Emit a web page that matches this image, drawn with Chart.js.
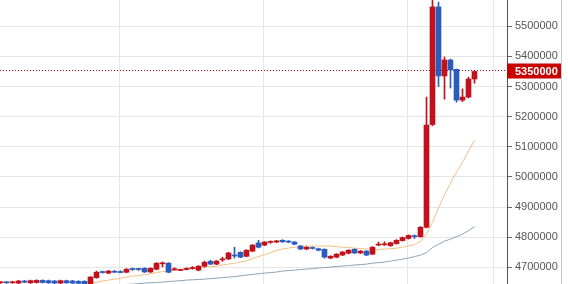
<!DOCTYPE html>
<html>
<head>
<meta charset="utf-8">
<script src="https://cdn.jsdelivr.net/npm/chart.js@4.4.1/dist/chart.umd.min.js"></script>
<style>
  html, body { margin: 0; padding: 0; background: #fff; }
  #wrap { width: 561px; height: 284px; border-right: 1px solid #c8c8c8; }
</style>
</head>
<body>
<div id="wrap"><canvas id="chart"></canvas></div>
<script>
// candle data (one per session, oldest first)
const opens = [
  4649000, 4651000, 4649000, 4648000, 4655000, 4649000, 4650000, 4657000, 4656000, 4655000,
  4648000, 4656000, 4655000, 4654000, 4654000, 4645000, 4666000, 4686000, 4681000, 4686000,
  4685000, 4684000, 4695000, 4695000, 4697000, 4685000, 4694000, 4712000, 4714000, 4692000,
  4690000, 4693000, 4696000, 4691000, 4704000, 4720000, 4711000, 4725000, 4728000, 4741000,
  4750000, 4737000, 4754000, 4781000, 4774000, 4783000, 4784000, 4790000, 4787000, 4784000,
  4771000, 4761000, 4766000, 4762000, 4760000, 4731000, 4734000, 4741000, 4747000, 4760000,
  4748000, 4754000, 4744000, 4774000, 4775000, 4772000, 4779000, 4789000, 4796000, 4805000,
  4802000, 4833000, 5174000, 5564000, 5335000, 5388000, 5357000, 5255000, 5265000, 5325000
];
const closes = [
  4651000, 4649000, 4652000, 4655000, 4651000, 4656000, 4657000, 4650000, 4649000, 4648000,
  4656000, 4649000, 4648000, 4647000, 4646000, 4668000, 4684000, 4683000, 4688000, 4684000,
  4683000, 4694000, 4693000, 4693000, 4685000, 4697000, 4714000, 4715000, 4684000, 4694000,
  4692000, 4695000, 4699000, 4704000, 4717000, 4711000, 4721000, 4728000, 4748000, 4738000,
  4734000, 4757000, 4774000, 4767000, 4784000, 4785000, 4788000, 4785000, 4784000, 4777000,
  4761000, 4767000, 4763000, 4757000, 4734000, 4737000, 4744000, 4751000, 4757000, 4748000,
  4754000, 4741000, 4767000, 4777000, 4778000, 4782000, 4790000, 4799000, 4806000, 4802000,
  4833000, 5172000, 5564000, 5335000, 5388000, 5355000, 5255000, 5265000, 5325000, 5350000
];
const highs = [
  4653000, 4653000, 4654000, 4657000, 4657000, 4658000, 4659000, 4659000, 4658000, 4657000,
  4658000, 4658000, 4657000, 4656000, 4656000, 4670000, 4688000, 4688000, 4690000, 4690000,
  4689000, 4696000, 4698000, 4697000, 4699000, 4699000, 4716000, 4718000, 4716000, 4699000,
  4694000, 4699000, 4703000, 4706000, 4721000, 4724000, 4723000, 4734000, 4750000, 4767000,
  4752000, 4759000, 4776000, 4790000, 4786000, 4788000, 4790000, 4792000, 4789000, 4786000,
  4773000, 4769000, 4768000, 4764000, 4762000, 4739000, 4746000, 4753000, 4759000, 4762000,
  4756000, 4756000, 4769000, 4784000, 4785000, 4784000, 4792000, 4801000, 4808000, 4808000,
  4836000, 5265000, 5620000, 5580000, 5398000, 5391000, 5358000, 5292000, 5331000, 5352000
];
const lows = [
  4647000, 4647000, 4647000, 4646000, 4649000, 4647000, 4648000, 4648000, 4647000, 4646000,
  4646000, 4647000, 4646000, 4645000, 4644000, 4643000, 4664000, 4681000, 4679000, 4683000,
  4682000, 4682000, 4690000, 4690000, 4683000, 4683000, 4692000, 4702000, 4682000, 4691000,
  4689000, 4692000, 4694000, 4689000, 4701000, 4709000, 4709000, 4720000, 4726000, 4731000,
  4732000, 4735000, 4752000, 4765000, 4772000, 4780000, 4782000, 4783000, 4782000, 4775000,
  4759000, 4759000, 4761000, 4755000, 4731000, 4729000, 4732000, 4739000, 4745000, 4746000,
  4746000, 4739000, 4742000, 4772000, 4773000, 4770000, 4777000, 4787000, 4794000, 4796000,
  4800000, 4831000, 5170000, 5300000, 5258000, 5295000, 5248000, 5250000, 5262000, 5311000
];

// moving averages (null where not drawn)
const maShort = [
  null, null, null, null, null, null, null, null, null, null,
  null, null, null, null, null, 4648000, 4651000, 4655000, 4658000, 4661000,
  4664000, 4668000, 4671000, 4673000, 4676000, 4679000, 4683000, 4686000, 4688000, 4691000,
  4692000, 4696000, 4698000, 4699000, 4701000, 4703000, 4704000, 4708000, 4711000, 4714000,
  4718000, 4722000, 4729000, 4736000, 4742000, 4749000, 4756000, 4761000, 4764000, 4767000,
  4769000, 4771000, 4771000, 4771000, 4771000, 4771000, 4769000, 4767000, 4766000, 4764000,
  4762000, 4761000, 4759000, 4759000, 4761000, 4762000, 4764000, 4767000, 4771000, 4776000,
  4786000, 4811000, 4850000, 4897000, 4940000, 4980000, 5016000, 5049000, 5086000, 5122000
];
const maLong = [
  null, null, null, null, null, null, null, null, null, null,
  null, null, null, null, null, null, null, null, null, null,
  4641000, 4643500, 4644500, 4646000, 4648000, 4649000, 4650000, 4651300, 4653000, 4654600,
  4656000, 4658000, 4659000, 4660000, 4661000, 4663000, 4664500, 4666000, 4668000, 4669500,
  4672000, 4674500, 4677000, 4679000, 4681000, 4683000, 4684500, 4688000, 4689500, 4691000,
  4693000, 4694400, 4696000, 4698000, 4699500, 4701000, 4703000, 4704500, 4706000, 4708000,
  4709500, 4711000, 4714000, 4716000, 4717700, 4721000, 4724300, 4727600, 4731000, 4736000,
  4741000, 4749000, 4766000, 4777000, 4787000, 4794000, 4802000, 4810500, 4822000, 4835500
];

const yTicks = [4700000, 4800000, 4900000, 5000000, 5100000, 5200000, 5300000, 5400000, 5500000];
const gridX = [19.9, 43.9, 67.9, 82.1];   // vertical separators (candle index units)

const UP = '#c3111b';
const DOWN = '#2a5bbf';
const lastClose = closes[closes.length - 1];
const candleColors = closes.map((c, i) => (c >= opens[i] ? UP : DOWN));

const bodies = opens.map((o, i) => ({ x: i, y: [Math.min(o, closes[i]), Math.max(o, closes[i])] }));
const wicks = highs.map((h, i) => ({ x: i, y: [lows[i], h] }));
const toPts = arr => arr.map((v, i) => ({ x: i, y: v }));

const lastPricePlugin = {
    id: 'lastPrice',
    beforeDatasetsDraw(chart) {
        const { ctx, chartArea, scales } = chart;
        const py = Math.round(scales.y.getPixelForValue(lastClose)) - 0.5;
        ctx.save();
        ctx.strokeStyle = '#c00000';
        ctx.lineWidth = 1;
        ctx.setLineDash([1, 2]);
        ctx.beginPath();
        ctx.moveTo(chartArea.left, py);
        ctx.lineTo(chartArea.right, py);
        ctx.stroke();
        ctx.restore();
    },
    afterDraw(chart) {
        const { ctx, chartArea, scales } = chart;
        const py = Math.round(scales.y.getPixelForValue(lastClose)) - 0.5;
        ctx.save();
        ctx.fillStyle = '#c80000';
        ctx.fillRect(chartArea.right, py - 7, chart.width - chartArea.right, 15);
        ctx.fillStyle = '#ffffff';
        ctx.font = 'bold 11px "Liberation Sans", Arial, sans-serif';
        ctx.textBaseline = 'middle';
        ctx.textAlign = 'left';
        ctx.fillText(String(lastClose), chartArea.right + 8, py + 1);
        ctx.restore();
    }
};

const ctx = document.getElementById('chart').getContext('2d');

new Chart(ctx, {
    type: 'bar',
    data: {
        datasets: [
            {
                label: 'body',
                data: bodies,
                backgroundColor: candleColors,
                borderWidth: 0,
                barThickness: 5,
                minBarLength: 1,
                grouped: false,
                order: 0
            },
            {
                label: 'wick',
                data: wicks,
                backgroundColor: candleColors,
                borderWidth: 0,
                barThickness: 1,
                grouped: false,
                order: 1
            },
            {
                type: 'line',
                label: 'MA short',
                data: toPts(maShort),
                borderColor: '#f0c080',
                borderWidth: 1,
                pointRadius: 0,
                tension: 0,
                order: 2
            },
            {
                type: 'line',
                label: 'MA long',
                data: toPts(maLong),
                borderColor: '#8ea3b3',
                borderWidth: 1,
                pointRadius: 0,
                tension: 0,
                order: 3
            }
        ]
    },
    options: {
        responsive: true,
        maintainAspectRatio: false,
        animation: false,
        layout: { padding: 0 },
        scales: {
            x: {
                type: 'linear',
                offset: false,
                min: -0.0833,
                max: 84.4167,
                afterBuildTicks: scale => { scale.ticks = gridX.map(v => ({ value: v })); },
                afterFit: scale => { scale.height = 0; scale.paddingLeft = 0; scale.paddingRight = 0; },
                ticks: { display: false },
                grid: { color: '#e6e6e6', drawTicks: false, offset: false },
                border: { display: false }
            },
            y: {
                position: 'right',
                min: 4645000,
                max: 5587000,
                afterBuildTicks: scale => { scale.ticks = yTicks.map(v => ({ value: v })); },
                afterFit: scale => { scale.width = 54; scale.paddingTop = 0; scale.paddingBottom = 0; },
                ticks: {
                    color: '#555',
                    padding: 3,
                    font: { family: '"Liberation Sans", Arial, sans-serif', size: 11 },
                    callback: v => String(v)
                },
                grid: { color: '#e6e6e6', tickColor: '#666', tickLength: 5 },
                border: { color: '#555' }
            }
        },
        plugins: {
            legend: { display: false },
            tooltip: { enabled: false }
        }
    },
    plugins: [lastPricePlugin]
});
</script>
</body>
</html>
